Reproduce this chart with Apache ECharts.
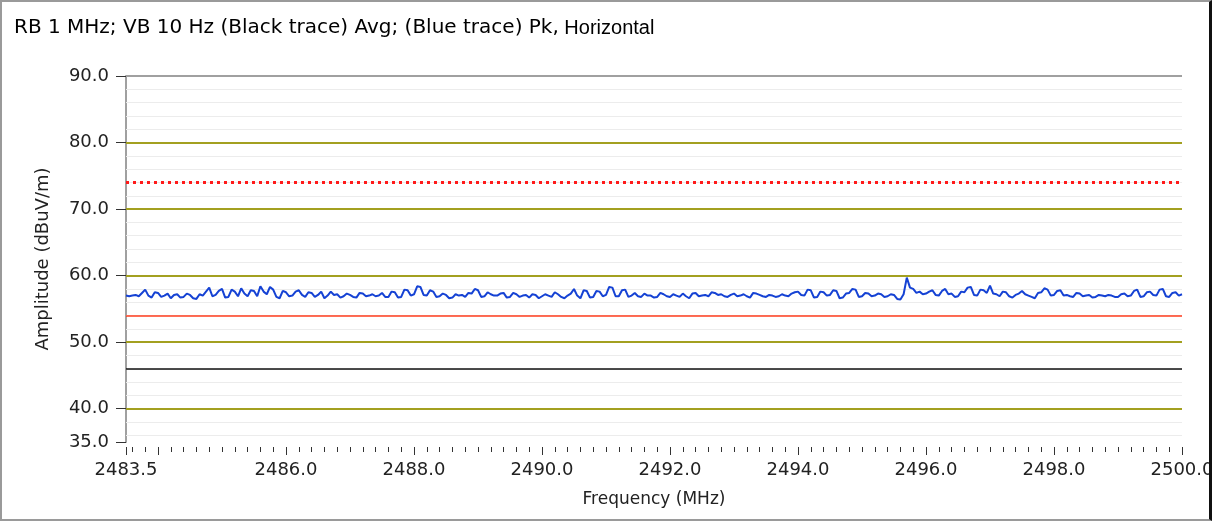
<!DOCTYPE html>
<html>
<head>
<meta charset="utf-8">
<script src="https://cdn.jsdelivr.net/npm/echarts@6/dist/echarts.min.js"></script>
<style>
  body { margin: 0; background: #fff; }
  #wrap { position: relative; width: 1212px; height: 521px; }
  #main { width: 1212px; height: 521px; }
  #frame {
    position: absolute; left: 0; top: 0; right: 0; bottom: 0;
    border-left: 2px solid #9a9a9a; border-top: 2px solid #9a9a9a;
    border-bottom: 2px solid #9a9a9a; border-right: 3px solid #111;
    pointer-events: none;
  }
</style>
</head>
<body>
<div id="wrap">
  <div id="main"></div>
  <div id="frame"></div>
</div>
<script>
// sweep: 2483.5 .. 2500.0 MHz, one reading every 0.05 MHz
var freqStart = 2483.5;
var freqStep = 0.05;

// blue trace (peak detector), dBuV/m
var peakTrace = [
  57.0, 56.9, 57.0, 57.1, 56.9, 57.4, 57.9, 57.0, 56.7, 57.5,
  57.4, 56.8, 57.0, 57.3, 56.6, 57.1, 57.2, 56.7, 56.8, 57.3,
  57.1, 56.6, 56.5, 57.2, 57.0, 57.6, 58.2, 56.9, 57.1, 57.7,
  58.0, 56.7, 56.8, 57.9, 57.6, 56.9, 58.1, 57.3, 56.9, 57.8,
  57.7, 56.9, 58.4, 57.6, 57.2, 58.3, 57.9, 56.8, 56.6, 57.7,
  57.5, 56.9, 57.0, 57.6, 57.8, 57.1, 56.8, 57.5, 57.4, 56.8,
  57.1, 57.6, 56.6, 57.0, 57.6, 57.1, 57.2, 56.7, 56.9, 57.3,
  57.1, 56.8, 56.7, 57.4, 57.3, 56.9, 57.0, 57.2, 56.9, 57.0,
  57.4, 56.8, 56.8, 57.6,
  57.5, 56.7, 56.8, 57.9, 57.8, 57.0, 57.2, 58.4, 58.3, 57.1,
  57.0, 57.8, 57.6, 56.8, 56.9, 57.3, 57.1, 56.6, 56.7, 57.2,
  57.0, 57.1, 56.8, 57.4, 57.3, 58.0, 57.8, 56.8, 56.9, 57.5,
  57.2, 57.0, 57.0, 57.3, 57.4, 56.7, 56.8, 57.4, 57.2, 56.8,
  57.0, 57.1, 56.7, 57.2, 57.1, 56.6, 56.9, 57.2, 57.0, 56.8,
  57.5, 57.2, 56.8, 56.6, 57.0, 57.3, 58.0, 57.0, 56.6, 57.8,
  57.7, 56.7, 56.8, 57.7, 57.6, 56.9, 57.1, 58.3, 58.2, 56.9,
  56.9, 57.8, 57.9, 56.8, 57.0, 57.4, 56.9, 56.8, 57.3, 57.0,
  57.0, 56.7, 56.8, 57.4,
  57.2, 56.9, 56.8, 57.2, 57.0, 56.8, 57.3, 56.9, 56.6, 57.3,
  57.4, 56.9, 57.0, 57.1, 56.9, 57.5, 57.4, 57.1, 57.2, 56.9,
  56.8, 57.1, 57.3, 56.9, 57.0, 57.2, 56.9, 56.7, 57.4, 57.3,
  57.1, 56.9, 56.8, 57.1, 57.0, 56.8, 56.9, 57.2, 57.0, 56.9,
  57.3, 57.5, 57.6, 57.1, 57.0, 57.9, 57.8, 56.7, 56.8, 57.6,
  57.5, 57.0, 57.1, 57.8, 57.7, 56.6, 56.7, 57.3, 57.4, 58.0,
  57.9, 56.8, 56.9, 57.4, 57.3, 56.9, 57.0, 57.3, 57.2, 56.8,
  56.9, 57.2, 57.1, 56.5, 56.4, 57.2, 59.7, 58.2, 58.0, 57.4,
  57.6, 57.2, 57.3, 57.6,
  57.8, 57.1, 57.0, 57.7, 58.0, 57.2, 57.3, 56.8, 56.9, 57.6,
  57.5, 58.2, 58.3, 57.1, 57.0, 57.9, 57.8, 57.4, 58.5, 57.3,
  57.2, 56.9, 57.6, 57.5, 56.9, 56.7, 57.1, 57.3, 57.7, 57.2,
  57.0, 56.8, 56.6, 57.4, 57.5, 58.1, 57.9, 57.0, 57.1, 57.7,
  57.8, 57.0, 57.1, 56.9, 56.8, 57.4, 57.3, 56.9, 57.0, 57.1,
  56.7, 56.8, 57.1, 57.0, 56.9, 57.1, 57.0, 56.8, 56.8, 57.2,
  57.3, 56.9, 57.0, 57.7, 57.9, 56.8, 56.9, 57.5, 57.6, 57.1,
  57.0, 57.9, 58.0, 56.9, 56.8, 57.4, 57.5, 57.0, 57.2
];

// flat lines
var avgTraceLevel = 46;   // black trace
var pkLimit = 74;         // red dotted
var avgLimit = 54;        // red solid

// axis ticks / labels
var xLabelValues = [2483.5, 2486, 2488, 2490, 2492, 2494, 2496, 2498, 2500];
var xMajorTicks = [2483.5, 2484, 2486, 2488, 2490, 2492, 2494, 2496, 2498, 2500];
var yLabelValues = [35, 40, 50, 60, 70, 80, 90];
var oliveGrid = [40, 50, 60, 70, 80];
var minorGrid = [36, 38, 42, 44, 46, 48, 52, 54, 56, 58, 62, 64, 66, 68, 72, 74, 76, 78, 82, 84, 86, 88];

// small ticks every 0.2 MHz
var xMinorTicks = [];
for (var t = 2483.6; t < 2500.01; t += 0.2) {
  xMinorTicks.push(Math.round(t * 10) / 10);
}

var font = "DejaVu Sans";
var chart = echarts.init(document.getElementById("main"));

var lineData = peakTrace.map(function (v, i) {
  return [Math.round((freqStart + i * freqStep) * 100) / 100, v];
});

function hLines(values, color, width, type) {
  return values.map(function (v) {
    return { yAxis: v, lineStyle: { color: color, width: width, type: type } };
  });
}

var option = {
  animation: false,
  title: {
    left: 9,
    top: 13,
    text: "{a|RB 1 MHz; VB 10 Hz (Black trace) Avg; (Blue trace) Pk,}{b| Horizontal}",
    textStyle: {
      fontWeight: "normal",
      rich: {
        a: { fontFamily: font, fontSize: 20, fontWeight: "normal", color: "#000" },
        b: { fontFamily: "Liberation Sans", fontSize: 20, fontWeight: "normal", color: "#000" }
      }
    }
  },
  grid: { left: 126, right: 30, top: 76, bottom: 79, outerBoundsMode: "none" },
  xAxis: [
    {
      type: "value",
      position: "bottom",
      min: 2483.5,
      max: 2500,
      offset: 5,
      name: "Frequency (MHz)",
      nameLocation: "middle",
      nameGap: 44,
      nameTextStyle: { fontFamily: font, fontSize: 17, color: "#222" },
      axisLine: { show: false },
      axisTick: { show: true, length: 8, customValues: xMajorTicks, lineStyle: { color: "#333", width: 1 } },
      axisLabel: {
        customValues: xLabelValues,
        margin: 14,
        fontFamily: font,
        fontSize: 18,
        color: "#222",
        formatter: function (v) { return v.toFixed(1); }
      },
      splitLine: { show: false }
    },
    {
      type: "value",
      position: "bottom",
      min: 2483.5,
      max: 2500,
      offset: 5,
      axisLine: { show: false },
      axisTick: { show: true, length: 5, customValues: xMinorTicks, lineStyle: { color: "#333", width: 1 } },
      axisLabel: { show: false },
      splitLine: { show: false }
    }
  ],
  yAxis: {
    type: "value",
    min: 35,
    max: 90,
    name: "Amplitude (dBuV/m)",
    nameLocation: "middle",
    nameGap: 74,
    nameTextStyle: { fontFamily: font, fontSize: 18, color: "#222" },
    axisLine: { show: true, lineStyle: { color: "#a0a0a0", width: 2 } },
    axisTick: { show: true, length: 10, customValues: yLabelValues, lineStyle: { color: "#333", width: 1 } },
    axisLabel: {
      customValues: yLabelValues,
      margin: 17,
      fontFamily: font,
      fontSize: 18,
      color: "#222",
      formatter: function (v) { return v.toFixed(1); }
    },
    splitLine: { show: false }
  },
  series: [
    {
      name: "grid",
      type: "line",
      data: [],
      silent: true,
      markLine: {
        silent: true,
        symbol: "none",
        label: { show: false },
        data: hLines(minorGrid, "#ececec", 1, "solid")
          .concat(hLines(oliveGrid, "#a3a020", 2, "solid"))
          .concat(hLines([90], "#a0a0a0", 2, "solid"))
      }
    },
    {
      name: "limits",
      type: "line",
      data: [],
      silent: true,
      markLine: {
        silent: true,
        symbol: "none",
        label: { show: false },
        data: [
          { yAxis: pkLimit, lineStyle: { color: "#ff1a1a", width: 3, type: [3, 4] } },
          { yAxis: avgLimit, lineStyle: { color: "#ff3c1e", width: 1.5, type: "solid" } },
          { yAxis: avgTraceLevel, lineStyle: { color: "#111", width: 1.5, type: "solid" } }
        ]
      }
    },
    {
      name: "Pk",
      type: "line",
      data: lineData,
      showSymbol: false,
      lineStyle: { color: "#1542d4", width: 2 },
      z: 5
    }
  ]
};

chart.setOption(option);
</script>
</body>
</html>
